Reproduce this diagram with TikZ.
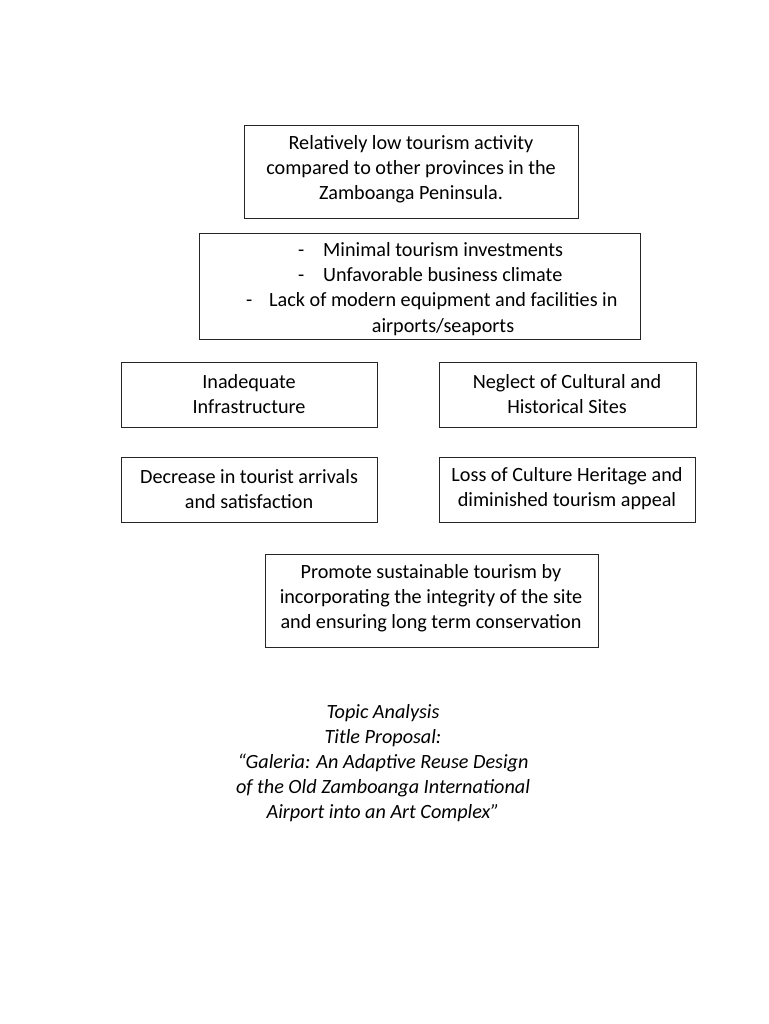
\documentclass[tikz,border=0pt]{standalone}
\usepackage{fontspec}
\setmainfont{Carlito}
\begin{document}
\begin{tikzpicture}[x=1pt,y=-1pt,
  box/.style={draw=black!85,line width=0.9pt,inner sep=0pt},
  txt/.style={align=center,font=\fontsize{20.2}{25}\selectfont,inner sep=0pt},
  ltxt/.style={anchor=west,font=\fontsize{20.2}{25}\selectfont,inner sep=0pt,text height=14pt,text depth=4pt}]
\useasboundingbox[fill=white] (0,0) rectangle (768,1024);
% boxes
\draw[box] (244,125) rectangle (578,218);
\node[txt] (t1) at (411,169) {Relatively low tourism activity\\compared to other provinces in the\\Zamboanga Peninsula.};
\draw[box] (199,233) rectangle (640,339);
\node[ltxt] (b1d) at (298,251) {-};
\node[ltxt] (b1) at (323,251) {Minimal tourism investments};
\node[ltxt] (b2d) at (298,276) {-};
\node[ltxt] (b2) at (323,276) {Unfavorable business climate};
\node[ltxt] (b3d) at (246,301) {-};
\node[ltxt] (b3) at (269,301) {Lack of modern equipment and facilities in};
\node[txt,text height=14pt,text depth=4pt] (b4) at (443,327) {airports/seaports};
\draw[box] (121,362) rectangle (377,427);
\node[txt] (a1) at (249,394) {Inadequate\\Infrastructure};
\draw[box] (439,362) rectangle (696,427);
\node[txt] (a2) at (567,394) {Neglect of Cultural and\\Historical Sites};
\draw[box] (121,457) rectangle (377,522);
\node[txt] (c1) at (249,489) {Decrease in tourist arrivals\\and satisfaction};
\draw[box] (439,457) rectangle (695,522);
\node[txt] (c2) at (567,489) {Loss of Culture Heritage and\\diminished tourism appeal};
\draw[box] (265,554) rectangle (598,647);
\node[txt] (p) at (431,598) {Promote sustainable tourism by\\incorporating the integrity of the site\\and ensuring long term conservation};
\node[txt,font=\fontsize{20.2}{25}\selectfont\itshape] (title) at (383,763) {Topic Analysis\\Title Proposal:\\``Galeria: An Adaptive Reuse Design\\of the Old Zamboanga International\\Airport into an Art Complex''};
\end{tikzpicture}
\end{document}
